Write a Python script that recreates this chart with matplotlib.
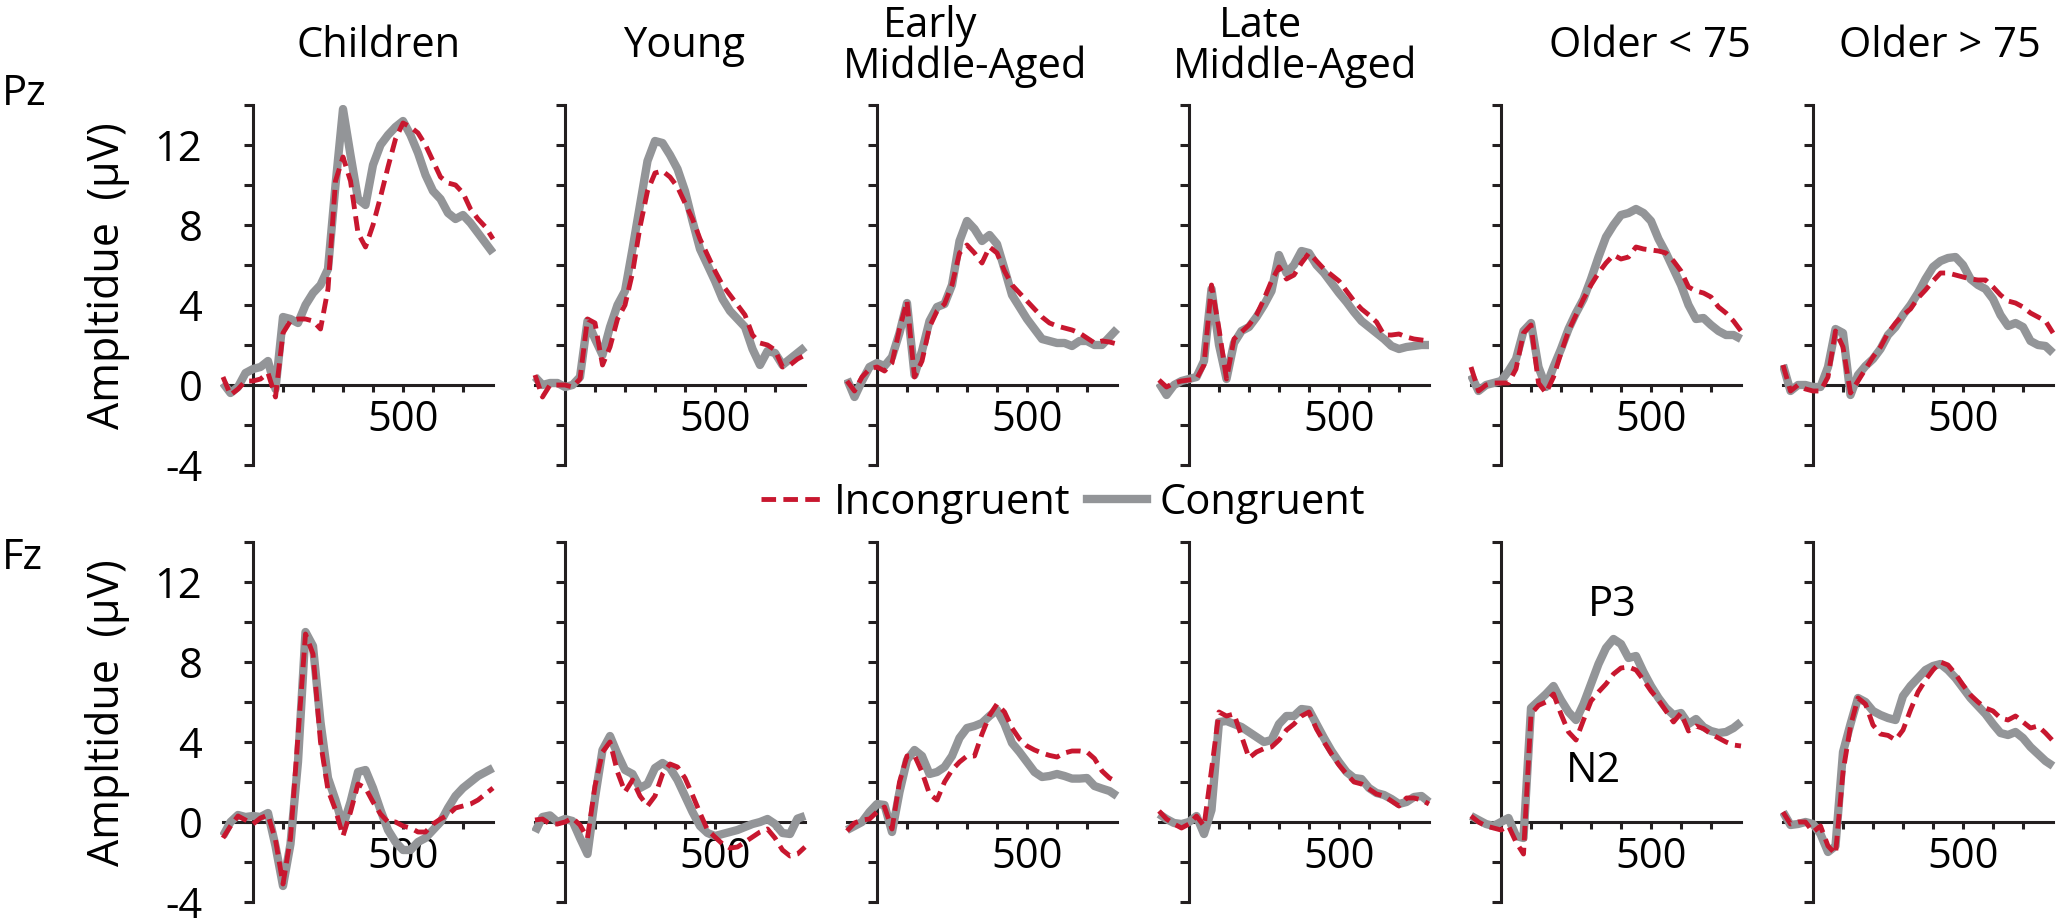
import matplotlib.pyplot as plt
from matplotlib.lines import Line2D

plt.rcParams['font.family'] = ['Open Sans', 'DejaVu Sans']

# time axis (ms), one sample every 25 ms
time_ms = list(range(-100, 801, 25))

groups = ["Children", "Young", "Early\nMiddle-Aged", "Late\nMiddle-Aged",
          "Older < 75", "Older > 75"]
electrodes = ["Pz", "Fz"]

# ---- Pz: congruent (con) / incongruent (inc), values in microvolts
children_pz_con = [0.1, -0.4, -0.1, 0.6, 0.8, 0.9, 1.2, -0.2, 3.4, 3.3, 3.1, 4.0, 4.6, 5.0, 5.8, 10.0, 13.8, 11.5, 9.3,
                   9.0, 11.0, 12.0, 12.5, 12.9, 13.2, 12.5, 11.6, 10.5, 9.7, 9.3, 8.6, 8.3, 8.5, 8.1, 7.6, 7.1, 6.6]
children_pz_inc = [0.4, -0.5, -0.2, 0.2, 0.2, 0.3, 0.6, -0.6, 2.6, 3.2, 3.3, 3.3, 3.2, 2.8, 4.8, 10.2, 11.4, 10.2, 7.6,
                   6.9, 8.0, 9.4, 10.9, 12.3, 13.1, 12.9, 12.6, 12.0, 11.2, 10.4, 10.1, 10.0, 9.6, 8.8, 8.3, 7.9, 7.3]
young_pz_con = [0.4, 0.0, 0.1, 0.1, -0.1, 0.0, 0.4, 3.2, 2.3, 1.5, 2.9, 4.0, 4.7, 6.8, 9.0, 11.2, 12.2, 12.1, 11.5,
                10.8, 9.7, 8.2, 6.8, 6.0, 5.2, 4.3, 3.7, 3.3, 2.9, 1.8, 1.0, 1.7, 1.6, 1.0, 1.3, 1.6, 1.9]
young_pz_inc = [0.5, -0.6, 0.0, 0.0, 0.0, -0.1, 0.3, 3.3, 3.1, 1.0, 1.9, 3.3, 4.0, 5.6, 7.9, 9.7, 10.6, 10.7, 10.4,
                9.9, 9.1, 8.3, 7.3, 6.5, 5.7, 5.0, 4.5, 4.0, 3.5, 2.5, 2.1, 2.0, 1.75, 0.9, 1.0, 1.3, 1.5]
early_pz_con = [0.3, -0.6, 0.2, 0.9, 1.1, 0.95, 1.4, 2.6, 4.1, 0.5, 1.7, 3.2, 3.9, 4.05, 5.0, 7.2, 8.2, 7.8, 7.2,
                7.5, 7.05, 5.8, 4.5, 3.9, 3.3, 2.8, 2.3, 2.2, 2.1, 2.1, 1.95, 2.2, 2.2, 2.0, 2.0, 2.4, 2.8]
early_pz_inc = [0.2, -0.3, 0.4, 0.8, 0.9, 0.7, 1.1, 2.8, 4.2, 0.4, 1.2, 2.9, 3.7, 4.05, 5.0, 6.6, 7.0, 6.6, 6.1,
                6.9, 6.6, 5.7, 5.0, 4.6, 4.2, 3.8, 3.4, 3.1, 2.95, 2.85, 2.75, 2.6, 2.35, 2.1, 2.2, 2.15, 2.05]
late_pz_con = [0.1, -0.5, 0.0, 0.2, 0.3, 0.4, 1.2, 4.8, 2.0, 0.3, 2.1, 2.7, 2.9, 3.4, 4.0, 4.7, 6.5, 5.6, 6.0,
               6.7, 6.6, 6.0, 5.6, 5.1, 4.6, 4.15, 3.65, 3.2, 2.9, 2.6, 2.3, 1.95, 1.8, 1.9, 1.95, 2.0, 2.0]
late_pz_inc = [0.25, -0.1, 0.1, 0.2, 0.25, 0.3, 1.0, 5.0, 2.8, 0.3, 2.3, 2.65, 3.0, 3.5, 4.3, 5.2, 5.9, 5.3, 5.5,
               6.1, 6.6, 6.2, 5.8, 5.5, 5.2, 4.7, 4.2, 3.8, 3.5, 3.15, 2.5, 2.5, 2.55, 2.4, 2.3, 2.25, 2.2]
old1_pz_con = [0.5, -0.3, 0.0, 0.1, 0.2, 0.7, 1.3, 2.7, 3.1, 0.9, -0.1, 0.9, 1.8, 2.8, 3.6, 4.3, 5.3, 6.4, 7.4,
               8.0, 8.5, 8.6, 8.8, 8.6, 8.2, 7.3, 6.6, 5.8, 5.0, 4.0, 3.3, 3.35, 3.0, 2.7, 2.5, 2.5, 2.3]
old1_pz_inc = [0.9, -0.3, 0.0, 0.1, 0.1, 0.1, 0.8, 2.6, 3.0, 0.1, -0.4, 0.4, 1.6, 2.7, 3.5, 4.3, 5.0, 5.6, 6.1,
               6.5, 6.3, 6.4, 6.9, 6.8, 6.75, 6.7, 6.6, 6.2, 5.7, 4.9, 4.7, 4.6, 4.4, 3.9, 3.6, 3.2, 2.7]
old2_pz_con = [1.0, -0.3, 0.0, 0.0, -0.1, -0.1, 0.9, 2.8, 2.6, -0.5, 0.5, 0.95, 1.3, 1.8, 2.5, 2.9, 3.5, 4.0, 4.6,
               5.3, 5.9, 6.2, 6.35, 6.4, 6.0, 5.3, 5.0, 4.8, 4.3, 3.5, 2.95, 3.1, 2.9, 2.2, 2.0, 1.95, 1.6]
old2_pz_inc = [1.0, -0.3, 0.0, -0.2, -0.3, -0.3, 0.4, 2.7, 1.9, -0.4, 0.2, 0.8, 1.4, 1.9, 2.6, 3.1, 3.5, 3.8, 4.35,
               4.75, 5.2, 5.6, 5.6, 5.5, 5.4, 5.3, 5.25, 5.25, 4.9, 4.5, 4.2, 4.1, 3.9, 3.6, 3.4, 3.2, 2.6]

# ---- Fz
children_fz_con = [-0.7, 0.0, 0.35, 0.25, 0.3, 0.25, 0.45, -1.2, -3.2, -1.1, 3.0, 9.5, 8.8, 5.0, 2.2, 1.1, -0.2, 1.0,
                   2.5, 2.6, 1.7, 0.6, -0.4, -1.0, -1.4, -1.4, -1.0, -0.8, -0.4, 0.0, 0.7, 1.3, 1.7, 2.0, 2.3, 2.5, 2.7]
children_fz_inc = [-0.8, -0.2, 0.3, 0.1, -0.1, 0.2, 0.35, -0.9, -3.1, -0.8, 4.3, 9.4, 8.4, 4.0, 1.6, 0.6, -0.7, 0.5,
                   1.9, 1.7, 1.0, 0.4, 0.0, 0.0, -0.2, -0.3, -0.5, -0.5, -0.1, 0.15, 0.35, 0.7, 0.8, 0.9, 1.1, 1.4, 1.7]
young_fz_con = [-0.5, 0.25, 0.33, 0.0, 0.15, 0.05, -0.8, -1.6, 1.2, 3.6, 4.3, 3.4, 2.6, 2.4, 1.7, 1.9, 2.7, 2.95,
                2.7, 2.1, 1.3, 0.5, -0.2, -0.55, -0.7, -0.6, -0.5, -0.4, -0.25, -0.1, 0.0, 0.15, -0.1, -0.55, -0.6,
                0.17, 0.3]
young_fz_inc = [0.1, 0.15, -0.1, -0.1, 0.0, 0.2, -0.15, -0.8, 1.8, 3.5, 4.0, 2.5, 1.5, 2.1, 1.3, 0.8, 1.3, 2.4,
                2.9, 2.75, 2.2, 1.35, 0.45, -0.4, -0.75, -1.1, -1.3, -1.25, -1.0, -0.75, -0.5, -0.35, -0.8, -1.4,
                -1.7, -1.6, -1.25]
early_fz_con = [-0.4, -0.2, 0.0, 0.5, 0.9, 0.85, -0.5, 1.5, 3.1, 3.6, 3.3, 2.4, 2.5, 2.75, 3.3, 4.2, 4.7, 4.8,
                4.95, 5.3, 5.6, 4.9, 3.95, 3.5, 3.0, 2.5, 2.25, 2.3, 2.4, 2.3, 2.17, 2.17, 2.2, 1.8, 1.67, 1.55, 1.3]
early_fz_inc = [-0.45, -0.05, 0.1, 0.15, 0.5, 0.75, -0.35, 2.0, 3.3, 3.33, 2.5, 1.4, 1.1, 2.0, 2.6, 3.0, 3.3, 3.3,
                4.4, 5.33, 5.9, 5.5, 4.7, 4.15, 3.8, 3.6, 3.45, 3.33, 3.25, 3.45, 3.55, 3.55, 3.5, 3.17, 2.55, 2.2,
                2.0]
late_fz_con = [0.4, 0.15, -0.05, -0.1, 0.0, 0.3, -0.6, 0.6, 5.0, 5.05, 4.9, 4.75, 4.5, 4.25, 4.0, 4.1, 4.9, 5.3,
               5.3, 5.65, 5.6, 4.9, 4.2, 3.55, 3.0, 2.5, 2.2, 2.15, 1.7, 1.45, 1.35, 1.15, 0.9, 1.0, 1.25, 1.3, 1.0]
late_fz_inc = [0.55, 0.15, -0.1, -0.3, -0.1, 0.3, -0.2, 2.6, 5.5, 5.3, 5.4, 4.3, 3.2, 3.5, 3.67, 3.75, 4.1, 4.6,
               4.9, 5.3, 5.5, 4.65, 4.0, 3.4, 2.85, 2.4, 2.0, 1.9, 1.65, 1.4, 1.3, 1.05, 0.8, 1.2, 1.2, 1.1, 0.9]
old1_fz_con = [0.3, 0.1, -0.1, -0.2, 0.0, 0.2, -0.7, -0.8, 5.7, 6.05, 6.4, 6.8, 6.1, 5.5, 5.1, 5.9, 6.9, 7.9,
               8.7, 9.15, 8.9, 8.2, 8.3, 7.5, 6.8, 6.2, 5.7, 5.35, 5.45, 4.9, 5.15, 4.75, 4.55, 4.45, 4.5, 4.7, 5.0]
old1_fz_inc = [0.3, 0.0, -0.2, -0.3, -0.4, -0.2, -1.0, -1.6, 5.4, 5.83, 6.0, 6.4, 5.4, 4.5, 4.1, 5.1, 6.05, 6.5,
               6.9, 7.4, 7.7, 7.75, 7.6, 7.1, 6.55, 6.1, 5.55, 5.0, 5.45, 4.55, 4.8, 4.67, 4.4, 4.2, 4.0, 3.85, 3.8]
old2_fz_con = [0.5, -0.15, -0.1, 0.0, -0.1, -0.6, -1.5, -1.2, 3.5, 4.9, 6.2, 6.0, 5.55, 5.35, 5.2, 5.1, 6.3, 6.8,
               7.2, 7.6, 7.8, 7.9, 7.6, 7.2, 6.7, 6.2, 5.8, 5.4, 4.9, 4.45, 4.35, 4.5, 4.2, 3.75, 3.4, 3.05, 2.8]
old2_fz_inc = [0.5, -0.1, 0.0, 0.0, -0.5, -0.2, -1.2, -1.6, 2.5, 4.8, 6.2, 5.9, 4.85, 4.4, 4.33, 4.1, 4.6, 5.6,
               6.5, 7.1, 7.6, 8.0, 7.85, 7.4, 6.85, 6.35, 6.0, 5.7, 5.55, 5.2, 5.1, 5.3, 5.0, 4.7, 4.8, 4.45, 4.05]

congruent = [
    [children_pz_con, young_pz_con, early_pz_con, late_pz_con, old1_pz_con, old2_pz_con],
    [children_fz_con, young_fz_con, early_fz_con, late_fz_con, old1_fz_con, old2_fz_con],
]
incongruent = [
    [children_pz_inc, young_pz_inc, early_pz_inc, late_pz_inc, old1_pz_inc, old2_pz_inc],
    [children_fz_inc, young_fz_inc, early_fz_inc, late_fz_inc, old1_fz_inc, old2_fz_inc],
]

yticks = list(range(-4, 15, 2))
ytick_labels = ["-4", "", "0", "", "4", "", "8", "", "12", ""]
xticks = list(range(100, 701, 100))
xtick_labels = ["", "", "", "", "500", "", ""]

# style
RED = "#c8172f"
GRAY = "#939598"
INK = "#231f20"
FS = 30

# layout, in pixels of the 2059 x 923 output
W, H = 2059, 923
px_per_ms = 0.3
spine_x = [253 + 312 * c for c in range(6)]
row_top = [105, 542]          # pixel row of 14 uV
row_bottom = [465, 902]       # pixel row of -4 uV
title_x = [379, 684, 965, 1295, 1650, 1940]
xmin, xmax = -110, 810

fig = plt.figure(figsize=(W / 100, H / 100), dpi=100)

for r, elec in enumerate(electrodes):
    for c, group in enumerate(groups):
        left = spine_x[c] + xmin * px_per_ms
        width = (xmax - xmin) * px_per_ms
        ax = fig.add_axes([left / W, 1 - row_bottom[r] / H, width / W,
                           (row_bottom[r] - row_top[r]) / H])
        ax.plot(time_ms, congruent[r][c], color=GRAY, lw=6, solid_joinstyle="round",
                solid_capstyle="butt", zorder=2)
        ax.plot(time_ms, incongruent[r][c], color=RED, lw=3.5, dashes=(3, 1.5),
                zorder=3)
        ax.set_xlim(xmin, xmax)
        ax.set_ylim(-4, 14)
        ax.patch.set_alpha(0)

        for s in ["top", "right"]:
            ax.spines[s].set_visible(False)
        ax.spines["left"].set_position(("data", 0))
        ax.spines["left"].set_bounds(-4, 14)
        ax.spines["bottom"].set_position(("data", 0))
        ax.spines["bottom"].set_bounds(-100, 800)
        for s in ["left", "bottom"]:
            ax.spines[s].set_color(INK)
            ax.spines[s].set_linewidth(2.2)
            ax.spines[s].set_zorder(1)

        ax.set_yticks(yticks)
        ax.set_yticklabels(ytick_labels if c == 0 else [""] * len(yticks))
        ax.set_xticks(xticks)
        ax.set_xticklabels(xtick_labels)
        ax.tick_params(axis="y", direction="out", length=6.5, width=2.2, color=INK,
                       pad=30, labelsize=FS)
        ax.tick_params(axis="x", direction="out", length=5, width=2.2, color=INK,
                       pad=5, labelsize=FS)

        if r == 0:
            lines = group.split("\n")
            if len(lines) == 1:
                places = [(0, 57)]
            else:
                places = [(-35, 37), (0, 78)]
            for line, (dx, b) in zip(lines, places):
                fig.text((title_x[c] + dx) / W, 1 - b / H, line, ha="center",
                         va="baseline", fontsize=FS)

        if r == 1 and c == 4:
            ax.text(370, 10.85, "P3", ha="center", va="center", fontsize=FS)
            ax.text(307, 2.55, "N2", ha="center", va="center", fontsize=FS)

# electrode labels and y axis labels
for r, elec in enumerate(electrodes):
    fig.text(2 / W, 1 - (row_top[r] + [0, 27][r]) / H, elec, ha="left",
             va="baseline", fontsize=FS)
    fig.text(107 / W, 1 - (row_top[r] + 171) / H, "Ampltidue  (\u03bcV)",
             rotation=90, ha="center", va="center", fontsize=31)

handles = [Line2D([], [], color=RED, lw=3.5, dashes=(3, 1.5)),
           Line2D([], [], color=GRAY, lw=6)]
fig.legend(handles, ["Incongruent", "Congruent"], loc="center",
           bbox_to_anchor=(1063 / W, 1 - 503 / H), ncol=2, frameon=False,
           fontsize=FS, handlelength=1.45, handletextpad=0.3, columnspacing=0.4,
           borderpad=0, borderaxespad=0)

fig.savefig("out.png", dpi=100)
